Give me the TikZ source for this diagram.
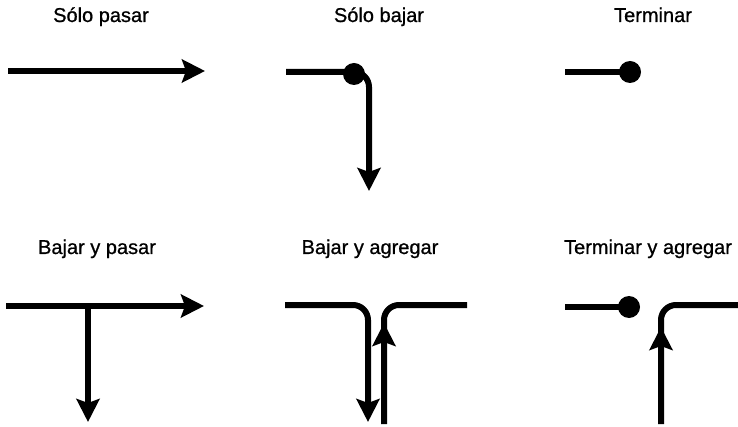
\documentclass[tikz,border=0pt]{standalone}
\usepackage{fontspec}
\setmainfont{Liberation Sans}
\newfontfamily\titlefont[FakeBold=0.8]{Liberation Sans}
\usepackage{tikz}
\usetikzlibrary{arrows.meta}

\begin{document}
\begin{tikzpicture}[x=1pt, y=-1pt,
    >={Stealth[length=23pt, width=23pt, inset=4pt]},
    track/.style={line width=6pt},
    turn/.style={track, rounded corners=15pt},
    stop/.style={circle, fill=black, inner sep=0pt, minimum size=22pt},
    title/.style={anchor=base, font=\titlefont\fontsize{20}{24}\selectfont}]
    \useasboundingbox (0,0) rectangle (738,427);
    % titulos
    \node[title] (t1) at (101,22) {Sólo pasar};
    \node[title] (t2) at (379,22) {Sólo bajar};
    \node[title] (t3) at (653,22) {Terminar};
    \node[title] (t4) at (97,254) {Bajar y pasar};
    \node[title] (t5) at (370,254) {Bajar y agregar};
    \node[title] (t6) at (648,254) {Terminar y agregar};
    % solo pasar
    \coordinate (a1) at (8,71);
    \coordinate (b1) at (205,71);
    \draw[track, ->] (a1) -- (b1);
    % solo bajar
    \coordinate (a2) at (286,72);
    \coordinate (b2) at (369,191);
    \draw[turn, ->] (a2) -| (b2);
    \node[stop] (d2) at (354,74) {};
    % terminar
    \coordinate (a3) at (565,72);
    \node[stop] (d3) at (630,72) {};
    \draw[track] (a3) -- (d3.center);
    % bajar y pasar
    \coordinate (a4) at (6,306);
    \coordinate (b4) at (204,306);
    \coordinate (c4) at (88,306);
    \coordinate (e4) at (88,422);
    \draw[track, ->] (a4) -- (b4);
    \draw[track, ->] (c4) -- (e4);
    % bajar y agregar
    \coordinate (a5) at (285,305);
    \coordinate (b5) at (368,422);
    \coordinate (u5) at (384,424);
    \coordinate (m5) at (384,323);
    \coordinate (e5) at (467,305);
    \draw[turn, ->] (a5) -| (b5);
    \draw[turn] (u5) |- (e5);
    \draw[track, ->] (u5) -- (m5);
    % terminar y agregar
    \coordinate (a6) at (565,307);
    \node[stop] (d6) at (629,307) {};
    \draw[track] (a6) -- (d6.center);
    \coordinate (u6) at (661,424);
    \coordinate (m6) at (661,327);
    \coordinate (e6) at (738,305);
    \draw[turn] (u6) |- (e6);
    \draw[track, ->] (u6) -- (m6);
\end{tikzpicture}
\end{document}
